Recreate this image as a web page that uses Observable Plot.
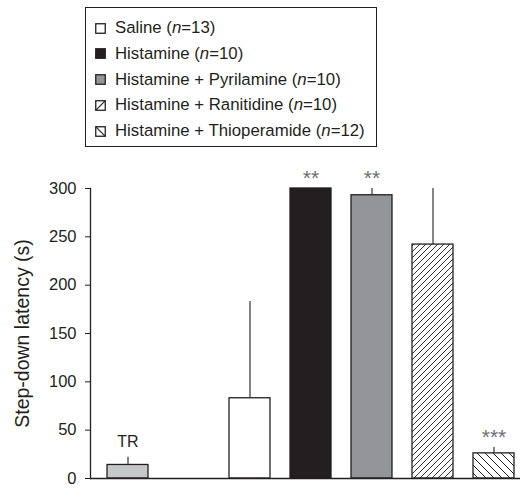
<!DOCTYPE html>
<html><head><meta charset="utf-8">
<script src="https://cdn.jsdelivr.net/npm/d3@7"></script>
<script src="https://cdn.jsdelivr.net/npm/@observablehq/plot@0.6"></script>
<style>
body{margin:0;background:#fff;font-family:"Liberation Sans",Arial,sans-serif;color:#231f20;}
#wrap{position:relative;width:520px;height:489px;}
#legend{position:absolute;left:85px;top:7px;width:290px;height:138px;border:1px solid #231f20;}
.row{position:absolute;left:9px;height:20px;display:flex;align-items:center;font-size:16.8px;white-space:nowrap;}
.row svg{margin-right:9px;}
#chart{position:absolute;left:0;top:160px;}
</style></head>
<body><div id="wrap"><div id="legend"></div><div id="chart"></div></div>
<script>
const categories = ["TR", "gap", "Saline", "Histamine", "Histamine + Pyrilamine", "Histamine + Ranitidine", "Histamine + Thioperamide"];
const means  = [14, null, 83, 300, 293, 242, 26];
const errors = [8, null, 100, 0, 7, 58, 6];
const marks  = ["TR", "", "", "**", "**", "", "***"];
const fills  = ["#c6c7c9", "none", "#ffffff", "#231f20", "#939598", "url(#hatchR)", "url(#hatchT)"];
const legendLabels = ["Saline", "Histamine", "Histamine + Pyrilamine", "Histamine + Ranitidine", "Histamine + Thioperamide"];
const legendN = [13, 10, 10, 10, 12];
const yTicks = [0, 50, 100, 150, 200, 250, 300];

const data = categories.map((c, i) => ({cat: c, mean: means[i], err: errors[i], mark: marks[i], fill: fills[i]}))
  .filter(d => d.mean != null);

const patternDefs = `
<pattern id="hatchR" patternUnits="userSpaceOnUse" width="6" height="6">
  <path d="M0,6 L6,0 M-1,1 L1,-1 M5,7 L7,5" stroke="#231f20" stroke-width="0.9"/>
</pattern>
<pattern id="hatchT" patternUnits="userSpaceOnUse" width="8" height="8">
  <path d="M0,0 L8,8 M-1,7 L1,9 M7,-1 L9,1" stroke="#231f20" stroke-width="1"/>
</pattern>`;

const ff = '"Liberation Sans", Arial, sans-serif';
const plot = Plot.plot({
  width: 520, height: 329,
  marginLeft: 90, marginRight: 0, marginTop: 28, marginBottom: 11,
  style: {fontFamily: ff, fontSize: "16px", color: "#231f20", background: "transparent"},
  x: {domain: categories, paddingInner: 0.32, paddingOuter: 0.128, align: 0.76, axis: null},
  y: {domain: [0, 300]},
  marks: [
    Plot.ruleX(data, {x: "cat", y1: "mean", y2: d => d.mean + d.err, stroke: "#231f20", strokeWidth: 1.1}),
    Plot.barY(data, {x: "cat", y: "mean", fill: "fill", stroke: "#231f20", strokeWidth: 1.3}),
    Plot.ruleY([0], {stroke: "#231f20", strokeWidth: 1.3}),
    Plot.frame({anchor: "left", stroke: "#231f20", strokeWidth: 1.3}),
    Plot.axisY({ticks: yTicks, tickSize: 5, tickPadding: 9, label: null, fontSize: 16.5}),
    Plot.axisY({ticks: [], tickSize: 0, label: "Step-down latency (s)", labelAnchor: "center", labelArrow: "none", labelOffset: 75, fontSize: 19.5}),
    Plot.text(data.filter(d => d.mark === "TR"), {x: "cat", y: d => d.mean + d.err, text: "mark", dy: -15, fontSize: 16, fill: "#231f20"}),
    Plot.text(data.filter(d => d.mark.startsWith("*")), {x: "cat", y: d => d.mean + d.err, text: "mark", dy: -10, fontSize: 21, fill: "#6d6e71", letterSpacing: "2.5px"})
  ]
});
const defs = document.createElementNS("http://www.w3.org/2000/svg", "defs");
defs.innerHTML = patternDefs;
plot.insertBefore(defs, plot.firstChild);
document.getElementById("chart").appendChild(plot);

// legend
const legendFills = ["#ffffff", "#231f20", "#939598", "url(#lhR)", "url(#lhT)"];
const leg = document.getElementById("legend");
legendLabels.forEach((lab, i) => {
  const row = document.createElement("div");
  row.className = "row";
  row.style.top = (10 + i * 25.8) + "px";
  row.innerHTML = `<svg width="11" height="11"><defs>
    <pattern id="lhR" patternUnits="userSpaceOnUse" width="11" height="11"><path d="M0,11 L11,0" stroke="#231f20" stroke-width="1.2"/></pattern>
    <pattern id="lhT" patternUnits="userSpaceOnUse" width="11" height="11"><path d="M0,0 L11,11" stroke="#231f20" stroke-width="1.2"/></pattern></defs>
    <rect x="0.75" y="0.75" width="9.5" height="9.5" fill="${legendFills[i]}" stroke="#231f20" stroke-width="1.3"/></svg>
    <span>${lab} (<i>n</i>=${legendN[i]})</span>`;
  leg.appendChild(row);
});
</script></body></html>
